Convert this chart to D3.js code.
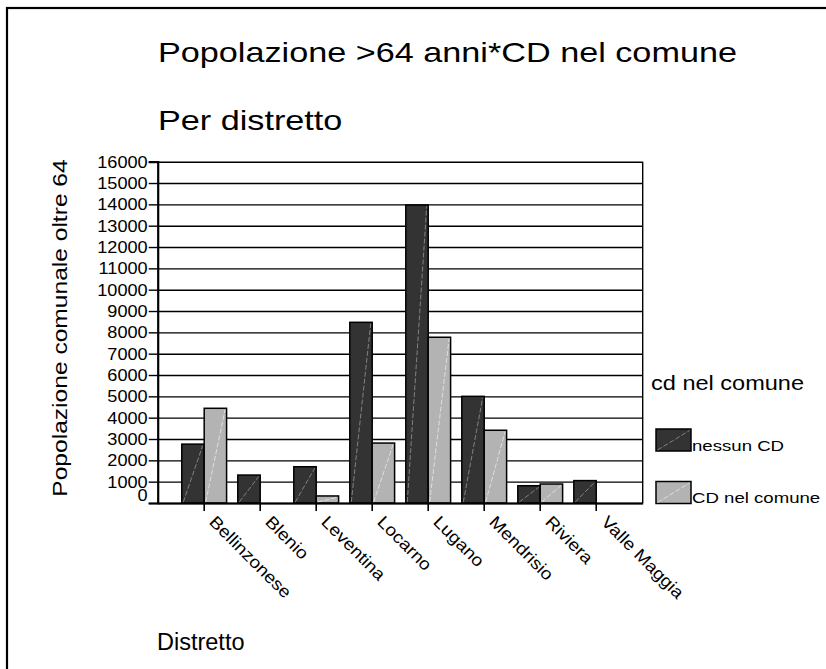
<!DOCTYPE html>
<html>
<head>
<meta charset="utf-8">
<script src="https://cdn.jsdelivr.net/npm/d3@7"></script>
<style>
  body { margin: 0; background: #fff; }
  text { font-family: "Liberation Sans", Arial, sans-serif; fill: #000; }
</style>
</head>
<body>
<div id="chart"></div>
<script>
// data
const districts = ["Bellinzonese", "Blenio", "Leventina", "Locarno", "Lugano", "Mendrisio", "Riviera", "Valle Maggia"];
const seriesNames = ["nessun CD", "CD nel comune"];
const nessunCD = [2760, 1310, 1700, 8470, 13970, 5000, 810, 1050];
const cdNelComune = [4440, 0, 330, 2810, 7770, 3410, 890, 0];
const yTickValues = [0, 1000, 2000, 3000, 4000, 5000, 6000, 7000, 8000, 9000, 10000, 11000, 12000, 13000, 14000, 15000, 16000];
const seriesColors = ["#333333", "#b3b3b3"];
const hatchColors = ["#8a8a8a", "#e2e2e2"];

const W = 826, H = 669;
const plot = { left: 157.7, right: 642.7, top: 161.7, bottom: 503 };

const svg = d3.select("#chart").append("svg")
    .attr("width", W)
    .attr("height", H);

// stretch text horizontally (reference glyphs are wider than normal)
function stretch(sel, sx) {
  sel.each(function() {
    const len = this.getComputedTextLength();
    d3.select(this).attr("textLength", len * sx).attr("lengthAdjust", "spacingAndGlyphs");
  });
  return sel;
}

// outer frame
svg.append("rect")
    .attr("x", 7).attr("y", 8)
    .attr("width", W + 20).attr("height", H + 20)
    .attr("fill", "none")
    .attr("stroke", "#000")
    .attr("stroke-width", 2.2);

// titles
svg.append("text").attr("x", 158).attr("y", 62)
    .style("font-size", "28.5px")
    .text("Popolazione >64 anni*CD nel comune")
    .call(stretch, 1.2);
svg.append("text").attr("x", 158).attr("y", 130)
    .style("font-size", "28.5px")
    .text("Per distretto")
    .call(stretch, 1.2);

const x0 = d3.scaleBand()
    .domain(districts)
    .range([plot.left, plot.right])
    .paddingInner(0.2)
    .paddingOuter(0.43);

const x1 = d3.scaleBand()
    .domain(seriesNames)
    .range([0, x0.bandwidth()]);

const y = d3.scaleLinear()
    .domain([0, 16000])
    .range([plot.bottom, plot.top]);

// gridlines
svg.append("g")
    .attr("class", "grid")
    .attr("transform", "translate(" + plot.left + ",0)")
    .call(d3.axisLeft(y).tickValues(yTickValues).tickSize(-(plot.right - plot.left)).tickFormat(""))
    .call(g => g.select(".domain").remove())
    .call(g => g.selectAll("line").attr("stroke", "#000").attr("stroke-width", 1.4));

// right border of plot
svg.append("line")
    .attr("x1", plot.right).attr("x2", plot.right)
    .attr("y1", plot.top).attr("y2", plot.bottom)
    .attr("stroke", "#000").attr("stroke-width", 1.4);

// bars
const rows = districts.map((d, i) => ({ district: d, values: [nessunCD[i], cdNelComune[i]] }));

const groups = svg.append("g").selectAll("g")
    .data(rows)
    .join("g")
    .attr("transform", d => "translate(" + x0(d.district) + ",0)");

const bars = groups.selectAll("g")
    .data(d => d.values.map((v, k) => ({ key: seriesNames[k], k: k, value: v })).filter(e => e.value > 0))
    .join("g");

bars.append("rect")
    .attr("x", d => x1(d.key))
    .attr("y", d => y(d.value))
    .attr("width", x1.bandwidth())
    .attr("height", d => y(0) - y(d.value))
    .attr("fill", d => seriesColors[d.k])
    .attr("stroke", "#000")
    .attr("stroke-width", 1.5);

bars.append("line")
    .attr("x1", d => x1(d.key) + 1.5)
    .attr("y1", y(0) - 1)
    .attr("x2", d => x1(d.key) + x1.bandwidth() - 1.5)
    .attr("y2", d => y(d.value) + 1.5)
    .attr("stroke", d => hatchColors[d.k])
    .attr("stroke-width", 0.9)
    .attr("stroke-dasharray", "5,2");

// y axis
const yAxis = svg.append("g")
    .attr("transform", "translate(" + plot.left + ",0)")
    .call(d3.axisLeft(y).tickValues(yTickValues).tickSize(9).tickPadding(1).tickFormat(d3.format("d")));
yAxis.select(".domain").attr("stroke", "#000").attr("stroke-width", 2.2);
yAxis.selectAll(".tick line").attr("stroke", "#000").attr("stroke-width", 1.4);
yAxis.selectAll(".tick text")
    .style("font-size", "16.5px")
    .attr("dy", d => d === 0 ? "-0.18em" : "0.34em")
    .call(stretch, 1.1);

// x axis
const xAxis = svg.append("g")
    .attr("transform", "translate(0," + plot.bottom + ")")
    .call(d3.axisBottom(x0).tickSize(8).tickSizeOuter(0));
xAxis.select(".domain").attr("stroke", "#000").attr("stroke-width", 2.2);
xAxis.selectAll(".tick line").attr("stroke", "#000").attr("stroke-width", 1.6);
xAxis.selectAll(".tick text")
    .style("font-size", "17px")
    .attr("text-anchor", "start")
    .attr("x", 0).attr("y", 0).attr("dy", 0)
    .attr("transform", "translate(4,20) rotate(45)")
    .call(stretch, 1.12);

// axis titles
svg.append("text")
    .attr("transform", "translate(67,328) rotate(-90)")
    .attr("text-anchor", "middle")
    .style("font-size", "21px")
    .text("Popolazione comunale oltre 64")
    .call(stretch, 1.17);

svg.append("text").attr("x", 157).attr("y", 650)
    .style("font-size", "23.5px")
    .text("Distretto");

// legend
svg.append("text").attr("x", 651).attr("y", 390)
    .style("font-size", "21px")
    .text("cd nel comune")
    .call(stretch, 1.12);

const legend = svg.append("g").selectAll("g")
    .data(seriesNames)
    .join("g")
    .attr("transform", (d, i) => "translate(656," + (429 + i * 52.5) + ")");

legend.append("rect")
    .attr("width", 35).attr("height", 22)
    .attr("fill", (d, i) => seriesColors[i])
    .attr("stroke", "#000").attr("stroke-width", 1.5);
legend.append("line")
    .attr("x1", 1.5).attr("y1", 21)
    .attr("x2", 33.5).attr("y2", 1.5)
    .attr("stroke", (d, i) => hatchColors[i])
    .attr("stroke-width", 0.9)
    .attr("stroke-dasharray", "5,2");
legend.append("text")
    .attr("x", 36).attr("y", 21.5)
    .style("font-size", "15.5px")
    .text(d => d)
    .call(stretch, 1.2);
</script>
</body>
</html>
